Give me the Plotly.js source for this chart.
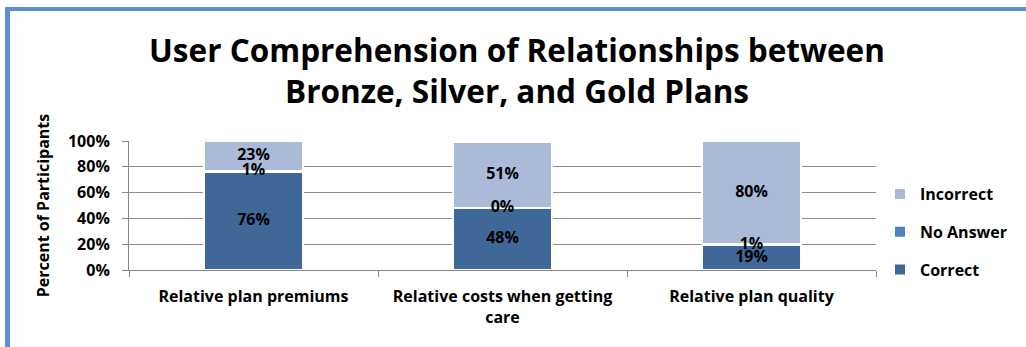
<!DOCTYPE html>
<html><head><meta charset="utf-8">
<script src="https://cdn.plot.ly/plotly-3.0.1.min.js"></script>
<style>
html,body{margin:0;padding:0;background:#fff;width:1026px;height:347px;overflow:hidden;}
#frame{position:absolute;left:5px;top:7px;width:1100px;height:336px;border-left:5px solid #5B8FD6;border-top:4px solid #5B8FD6;border-bottom:2px solid #9CC0EC;}
#chart{position:absolute;left:0;top:0;width:1026px;height:347px;}
</style></head>
<body>
<div id="frame"></div>
<div id="chart"></div>
<script>
const categories = ["Relative plan premiums", "Relative costs when getting<br>care", "Relative plan quality"];
const correct = [76, 48, 19];
const noAnswer = [1, 0, 1];
const incorrect = [23, 51, 80];
const yTickVals = [0, 20, 40, 60, 80, 100];
const yTickText = ["0%", "20%", "40%", "60%", "80%", "100%"];

const FONT = "'Open Sans', sans-serif";
const LBL = {family: FONT, size: 16, color: '#000', weight: 'bold'};
function mk(name, vals, color, rank){
  return {
    type: 'bar', name: name, x: categories, y: vals,
    marker: {color: color, line: {color: '#ffffff', width: 2}},
    legendgroup: name, legendrank: rank, hoverinfo: 'skip'
  };
}
const series = [correct, noAnswer, incorrect];
const data = [
  mk('Correct', correct, '#3F6899', 3),
  mk('No Answer', noAnswer, '#4F81BD', 2),
  mk('Incorrect', incorrect, '#AABAD7', 1)
];
// data labels at the middle of each stacked segment
series.forEach((vals, si) => {
  const mids = vals.map((v, i) => {
    let base = 0;
    for (let k = 0; k < si; k++) base += series[k][i];
    return base + v / 2;
  });
  data.push({
    type: 'scatter', mode: 'text', x: categories, y: mids,
    text: vals.map(v => v + '%'), textposition: 'middle center',
    textfont: LBL, showlegend: false, hoverinfo: 'skip', cliponaxis: false
  });
});
const layout = {
  width: 1026, height: 347,
  margin: {l: 129, r: 150, t: 141, b: 77},
  paper_bgcolor: 'rgba(0,0,0,0)', plot_bgcolor: 'rgba(0,0,0,0)',
  barmode: 'stack', bargap: 0.6,
  font: {family: FONT, color: '#000'},
  title: {text: 'User Comprehension of Relationships between<br>Bronze, Silver, and Gold Plans',
    font: {family: FONT, size: 31.5, weight: 'bold', color: '#000'},
    x: 517/1026, xanchor: 'center', yref: 'container', y: 1 - 62/347, yanchor: 'top'},
  xaxis: {type: 'category', showgrid: false, showline: true, linecolor: '#868686', linewidth: 1,
    ticks: 'outside', tickson: 'boundaries', ticklen: 6, tickcolor: '#868686',
    ticklabelstandoff: 12,
    tickfont: {family: FONT, size: 16, weight: 'bold'}, fixedrange: true},
  yaxis: {range: [0, 100], tickvals: yTickVals, ticktext: yTickText,
    showgrid: true, gridcolor: '#8C8C8C', gridwidth: 1,
    showline: true, linecolor: '#868686', linewidth: 1,
    ticks: 'outside', ticklen: 6, tickcolor: '#868686', ticklabelstandoff: 9,
    tickfont: {family: FONT, size: 16, weight: 'bold'}, zeroline: false,
    title: {text: 'Percent of Participants', font: {family: FONT, size: 16, weight: 'bold'}, standoff: 14},
    fixedrange: true},
  showlegend: true,
  legend: {xref: 'container', x: 880/1026, xanchor: 'left', yref: 'container', y: 1 - 232/347, yanchor: 'middle',
    traceorder: 'grouped', tracegroupgap: 14, font: {family: FONT, size: 16, weight: 'bold'}, bgcolor: 'rgba(0,0,0,0)'}
};
Plotly.newPlot('chart', data, layout, {displayModeBar: false, staticPlot: true});
</script>
</body></html>
